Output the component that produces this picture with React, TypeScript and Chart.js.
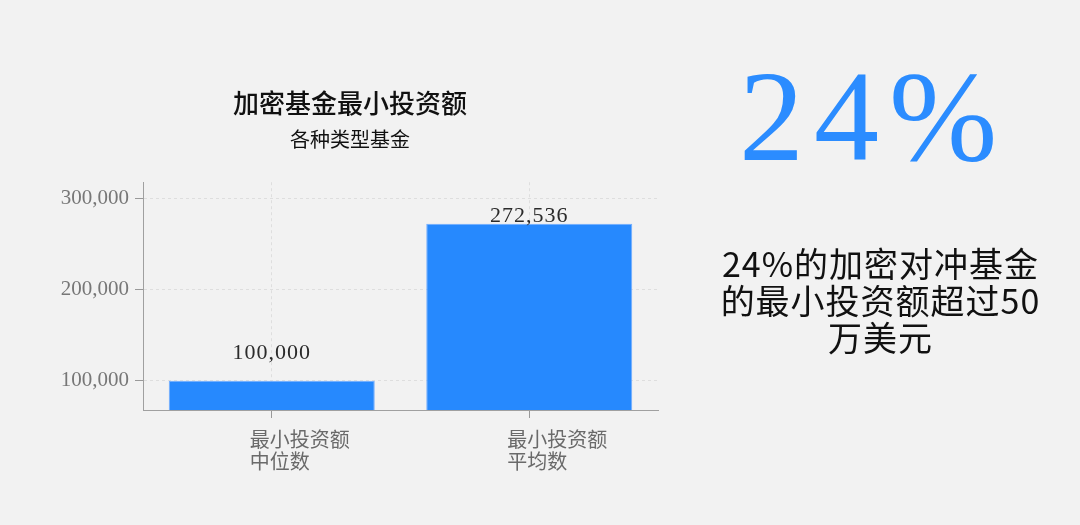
import React, { useEffect, useRef } from "react";
import { Chart, registerables } from "chart.js";

Chart.register(...registerables);

// data
const categories = [
  ["最小投资额", "中位数"],
  ["最小投资额", "平均数"],
];
const minInvestment = [100000, 272536];
const yTicks = [100000, 200000, 300000];

const BLUE = "#2689fe";
const fmt = (v: number) => v.toLocaleString("en-US");

// puts the value above each bar
const valueLabels = {
  id: "valueLabels",
  afterDatasetsDraw(chart: any) {
    const ctx = chart.ctx;
    const meta = chart.getDatasetMeta(0);
    ctx.save();
    ctx.font = '22px "Liberation Serif"';
    ctx.fillStyle = "#2b2b2b";
    ctx.textAlign = "center";
    ctx.textBaseline = "middle";
    (ctx as any).letterSpacing = "1px";
    meta.data.forEach((bar: any, i: number) => {
      const y = Math.max(bar.y - 28, chart.chartArea.top + 34);
      ctx.fillText(fmt(minInvestment[i]), bar.x, y);
    });
    ctx.restore();
  },
};

const BarChart = () => {
  const chartRef = useRef<HTMLCanvasElement | null>(null);

  useEffect(() => {
    if (!chartRef.current) return;
    const chart = new Chart(chartRef.current, {
      type: "bar",
      data: {
        labels: categories,
        datasets: [
          {
            data: minInvestment,
            backgroundColor: BLUE,
            borderColor: "#72adff",
            borderWidth: 1,
            borderSkipped: false,
            barPercentage: 0.8,
            categoryPercentage: 1.0,
          },
        ],
      },
      options: {
        animation: false,
        responsive: false,
        layout: { padding: { left: 42, right: 42, top: 0, bottom: 0 } },
        plugins: {
          legend: { display: false },
          tooltip: { enabled: false },
          title: {
            display: true,
            text: "加密基金最小投资额",
            color: "#111",
            font: { family: '"Noto Sans CJK SC"', size: 26, weight: 500 },
            padding: { top: 88, bottom: 8 },
          },
          subtitle: {
            display: true,
            text: "各种类型基金",
            color: "#111",
            font: { family: '"Noto Sans CJK SC"', size: 20, weight: "normal" },
            padding: { top: 0, bottom: 31 },
          },
        },
        scales: {
          x: {
            offset: true,
            afterFit: (s: any) => {
              s.height = 115;
            },
            grid: {
              offset: false,
              color: "#dedede",
              tickColor: "#999",
              tickLength: 8,
            },
            border: { color: "#a0a0a0", dash: [3, 3] },
            ticks: {
              align: "start",
              labelOffset: -22,
              padding: 10,
              color: "#6a6a6a",
              font: { family: '"Noto Sans CJK SC"', size: 20, lineHeight: 1.1 },
            },
          },
          y: {
            min: 68000,
            max: 318000,
            afterFit: (s: any) => {
              s.width = 101;
            },
            afterBuildTicks: (s: any) => {
              s.ticks = yTicks.map((v) => ({ value: v }));
            },
            grid: {
              color: "#dedede",
              tickColor: "#999",
              tickLength: 8,
            },
            border: { color: "#a0a0a0", dash: [3, 3] },
            ticks: {
              padding: 6,
              color: "#777",
              font: { family: '"Liberation Serif"', size: 21 },
              callback: (v: any) => fmt(Number(v)),
            },
          },
        },
      },
      plugins: [valueLabels],
    });
    return () => chart.destroy();
  }, []);

  return <canvas ref={chartRef} width={700} height={525} />;
};

export default function App() {
  return (
    <div
      style={{
        position: "absolute",
        left: 0,
        top: 0,
        width: 1080,
        height: 525,
        background: "#f2f2f2",
        overflow: "hidden",
      }}
    >
      <div style={{ position: "absolute", left: 0, top: 0 }}>
        <BarChart />
      </div>
      <div
        style={{
          position: "absolute",
          left: 739,
          top: 51,
          fontFamily: '"Liberation Serif"',
          fontSize: 130,
          lineHeight: "130px",
          letterSpacing: 10,
          color: "#2b8cff",
          whiteSpace: "nowrap",
        }}
      >
        24%
      </div>
      <div
        style={{
          position: "absolute",
          left: 680,
          width: 400,
          top: 244,
          textAlign: "center",
          fontFamily: '"Noto Sans CJK SC"',
          fontSize: 34,
          lineHeight: "37px",
          letterSpacing: 1,
          color: "#111",
          paddingLeft: 1,
          boxSizing: "border-box",
        }}
      >
        <div>24%的加密对冲基金</div>
        <div>的最小投资额超过50</div>
        <div>万美元</div>
      </div>
    </div>
  );
}
